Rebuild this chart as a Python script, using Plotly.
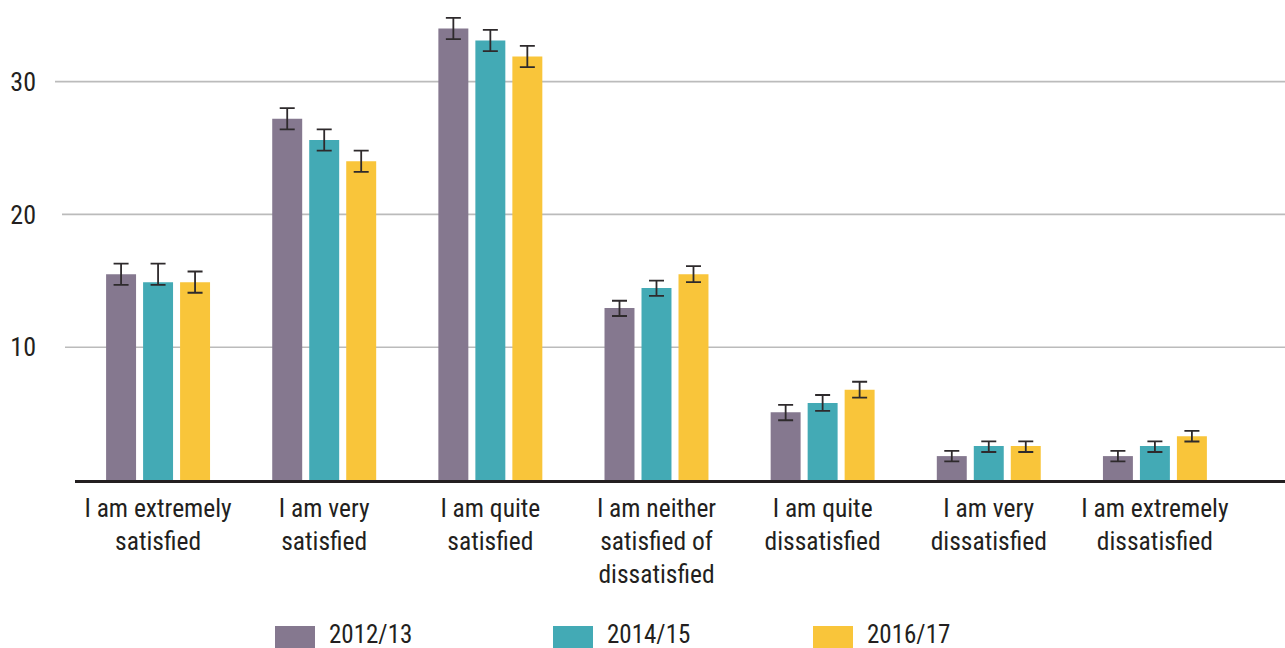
import plotly.graph_objects as go

categories = [
    "I am extremely<br>satisfied",
    "I am very<br>satisfied",
    "I am quite<br>satisfied",
    "I am neither<br>satisfied of<br>dissatisfied",
    "I am quite<br>dissatisfied",
    "I am very<br>dissatisfied",
    "I am extremely<br>dissatisfied",
]
series_names = ["2012/13", "2014/15", "2016/17"]

vals_2012 = [15.5, 27.2, 34.0, 12.95, 5.1, 1.8, 1.8]
err_plus_2012 = [0.8, 0.8, 0.8, 0.55, 0.55, 0.4, 0.4]
err_minus_2012 = [0.8, 0.8, 0.8, 0.6, 0.6, 0.4, 0.4]

vals_2014 = [14.9, 25.6, 33.1, 14.46, 5.8, 2.56, 2.56]
err_plus_2014 = [1.4, 0.8, 0.8, 0.55, 0.6, 0.35, 0.35]
err_minus_2014 = [0.2, 0.8, 0.8, 0.6, 0.6, 0.45, 0.45]

vals_2016 = [14.9, 24.0, 31.9, 15.5, 6.8, 2.56, 3.3]
err_plus_2016 = [0.8, 0.8, 0.8, 0.6, 0.6, 0.35, 0.4]
err_minus_2016 = [0.8, 0.8, 0.8, 0.6, 0.6, 0.45, 0.4]

y_ticks = [10, 20, 30]

colors = ["#85788F", "#43AAB5", "#F9C53A"]
FONT = "Roboto Condensed, Liberation Sans Narrow, DejaVu Sans Condensed, Roboto, sans-serif"
TXT = "#231F20"

W, H = 1285, 648
ML, MR, MT, MB = 75, 0, 9, 168
PW, PH = W - ML - MR, H - MT - MB

fig = go.Figure()
for name, vals, ep, em, col in zip(
    series_names,
    [vals_2012, vals_2014, vals_2016],
    [err_plus_2012, err_plus_2014, err_plus_2016],
    [err_minus_2012, err_minus_2014, err_minus_2016],
    colors,
):
    fig.add_trace(go.Bar(
        x=categories, y=vals, name=name,
        marker=dict(color=col, line=dict(width=0)),
        error_y=dict(type="data", symmetric=False, array=ep, arrayminus=em,
                     color="#2E2A2C", thickness=1.8, width=7.5),
        showlegend=False, hoverinfo="skip",
    ))

def px_x(p):
    return (p - ML) / PW

def px_y(p):
    return (H - MB - p) / PH

shapes = []
grid_starts = {10: 65, 20: 62, 30: 55}
for t in y_ticks:
    shapes.append(dict(type="line", xref="paper", yref="y",
                       x0=px_x(grid_starts[t]), x1=1.0, y0=t, y1=t,
                       line=dict(color="#BBBBBB", width=1.6), layer="below"))

annotations = []
legend_x = [275, 553, 813]
for name, col, lx in zip(series_names, colors, legend_x):
    shapes.append(dict(type="rect", xref="paper", yref="paper",
                       x0=px_x(lx), x1=px_x(lx + 40), y0=px_y(626), y1=px_y(649),
                       fillcolor=col, line=dict(width=0)))
    annotations.append(dict(text=name, xref="paper", yref="paper",
                            x=px_x(lx + 52), y=px_y(634.5), xanchor="left", yanchor="middle",
                            showarrow=False, font=dict(family=FONT, size=25, color=TXT)))

fig.update_layout(
    width=W, height=H,
    margin=dict(l=ML, r=MR, t=MT, b=MB, pad=0),
    paper_bgcolor="white", plot_bgcolor="white",
    barmode="group", bargap=0.332, bargroupgap=0.19,
    font=dict(family=FONT, size=25, color=TXT),
    shapes=shapes, annotations=annotations,
    xaxis=dict(range=[-0.5, 6.783], showgrid=False, showline=True,
               linecolor=TXT, linewidth=3, ticks="", tickfont=dict(size=25.5, color=TXT),
               ticklabelstandoff=3),
    yaxis=dict(range=[0, 35.47], tickvals=y_ticks, showgrid=False, zeroline=False,
               showline=False, ticks="", tickfont=dict(size=26, color=TXT),
               ticklabelstandoff=38),
)

fig.write_html("out.html", config={"displayModeBar": False},
               post_script="document.body.style.margin='0';")
